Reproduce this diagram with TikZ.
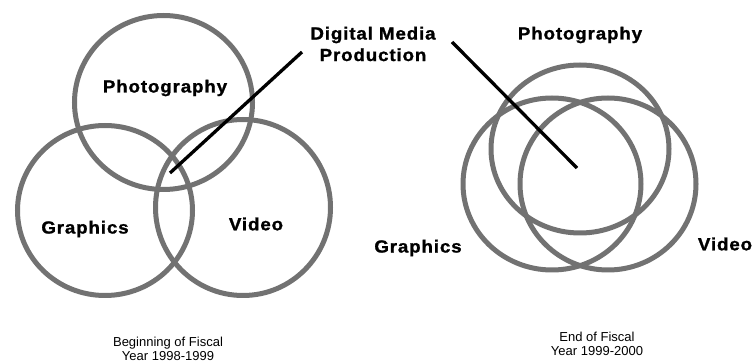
\documentclass[tikz,border=0pt]{standalone}
\usepackage{fontspec}
\setmainfont{Liberation Sans}
\newfontfamily\lblfont[LetterSpace=5, FakeStretch=1.07, FakeBold=1.3]{Liberation Sans Bold}
\definecolor{ring}{RGB}{114,114,114}
\tikzset{
  ringstyle/.style={draw=ring, line width=5pt},
  lbl/.style={font=\lblfont\fontsize{17.5}{20}\selectfont, inner sep=0pt},
  captext/.style={font=\fontsize{13}{14.5}\selectfont, align=center, inner sep=0pt},
  pointer/.style={draw=black, line width=3.3pt}
}
\begin{document}
\begin{tikzpicture}[x=1pt,y=-1pt]
\useasboundingbox (0,0) rectangle (753,363);
% left diagram
\draw[ringstyle] (163.5,102.5) ellipse [x radius=89, y radius=87];
\draw[ringstyle] (105,210.5) ellipse [x radius=87.5, y radius=85];
\draw[ringstyle] (243,207.5) ellipse [x radius=87.5, y radius=88];
\node[lbl] (photoL) at (165,88) {Photography};
\node[lbl] (graphL) at (85,229) {Graphics};
\node[lbl] (videoL) at (256,224) {Video};
% right diagram
\draw[ringstyle] (580,149) ellipse [x radius=89, y radius=84];
\draw[ringstyle] (552,184) ellipse [x radius=89, y radius=86];
\draw[ringstyle] (608,184) ellipse [x radius=88, y radius=86];
\node[lbl] (photoR) at (580,35) {Photography};
\node[lbl] (graphR) at (418,248) {Graphics};
\node[lbl] (videoR) at (725,244) {Video};
% digital media label and pointers
\node[lbl, align=center, font=\lblfont\fontsize{17.5}{21.5}\selectfont] (dmp) at (373,44) {Digital Media\\Production};
\coordinate (startL) at (302,52);
\coordinate (endL) at (170,173);
\coordinate (startR) at (452,42);
\coordinate (endR) at (577,168);
\draw[pointer] (startL) -- (endL);
\draw[pointer] (startR) -- (endR);
% captions
\node[captext] (capL) at (168,349) {Beginning of Fiscal\\Year 1998-1999};
\node[captext] (capR) at (597,344) {End of Fiscal\\Year 1999-2000};
\end{tikzpicture}
\end{document}
